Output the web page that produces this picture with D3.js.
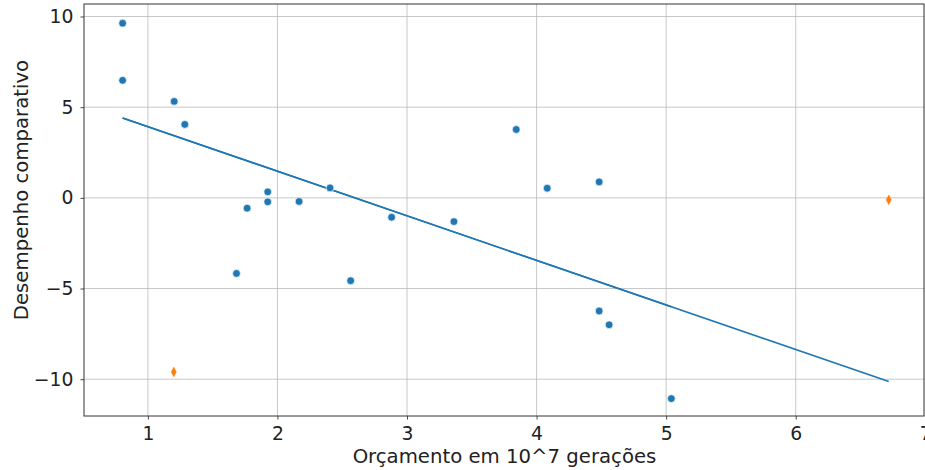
<!DOCTYPE html>
<html>
<head>
<meta charset="utf-8">
<script src="https://cdn.jsdelivr.net/npm/d3@7"></script>
<style>
  html, body { margin: 0; padding: 0; background: #fff; }
  svg { display: block; font-family: "DejaVu Sans", sans-serif; }
</style>
</head>
<body>
<svg id="chart" width="925" height="470"></svg>
<script>
// Budget (10^7 generations) vs. comparative performance
const budgetX = [0.805, 0.805, 1.203, 1.285, 1.684, 1.766, 1.925, 1.925, 2.167, 2.406,
                 2.565, 2.881, 3.362, 3.843, 4.082, 4.483, 4.483, 4.56, 5.04];
const performanceY = [9.63, 6.48, 5.32, 4.05, -4.17, -0.57, 0.33, -0.22, -0.2, 0.55,
                      -4.57, -1.07, -1.31, 3.77, 0.53, 0.88, -6.24, -7.0, -11.07];

// Highlighted runs
const outlierX = [1.2, 6.718];
const outlierY = [-9.6, -0.11];

// Linear fit: y = intercept + slope * x, drawn over two x spans
const fitIntercept = 6.38;
const fitSlope = -2.457;
const fitSpans = [[0.805, 5.04], [0.805, 6.718]];

const xTicks = [1, 2, 3, 4, 5, 6, 7];
const yTicks = [-10, -5, 0, 5, 10];
const xLabel = "Orçamento em 10^7 gerações";
const yLabel = "Desempenho comparativo";

const svg = d3.select("#chart");
const plotL = 84, plotR = 924, plotT = 4, plotB = 416;

const x = d3.scaleLinear().domain([0.507, 6.99]).range([plotL, plotR]);
const y = d3.scaleLinear().domain([-12.03, 10.69]).range([plotB, plotT]);

// grid
const grid = svg.append("g");
grid.selectAll("line.gx").data(xTicks).join("line")
  .attr("x1", d => x(d)).attr("x2", d => x(d))
  .attr("y1", plotT).attr("y2", plotB)
  .attr("stroke", "#b0b0b0").attr("stroke-opacity", 0.7).attr("stroke-width", 1);
grid.selectAll("line.gy").data(yTicks).join("line")
  .attr("x1", plotL).attr("x2", plotR)
  .attr("y1", d => y(d)).attr("y2", d => y(d))
  .attr("stroke", "#b0b0b0").attr("stroke-opacity", 0.7).attr("stroke-width", 1);

// axes
const xAxis = svg.append("g")
  .attr("transform", `translate(0,${plotB})`)
  .call(d3.axisBottom(x).tickValues(xTicks).tickFormat(d3.format("d")).tickSize(3.5).tickPadding(7));
const yAxis = svg.append("g")
  .attr("transform", `translate(${plotL},0)`)
  .call(d3.axisLeft(y).tickValues(yTicks).tickFormat(d => d < 0 ? "\u2212" + Math.abs(d) : d).tickSize(3.5).tickPadding(7));
[xAxis, yAxis].forEach(a => {
  a.select(".domain").remove();
  a.selectAll(".tick line").attr("stroke", "#333").attr("stroke-width", 0.9);
  a.selectAll(".tick text").attr("fill", "#222").style("font-size", "18.8px")
    .style("font-family", "DejaVu Sans, sans-serif");
});

// frame
svg.append("rect")
  .attr("x", plotL).attr("y", plotT)
  .attr("width", plotR - plotL).attr("height", plotB - plotT)
  .attr("fill", "none").attr("stroke", "#333").attr("stroke-width", 1);

// fit lines
const line = d3.line().x(d => x(d)).y(d => y(fitIntercept + fitSlope * d));
svg.append("g").selectAll("path").data(fitSpans).join("path")
  .attr("d", d => line(d))
  .attr("fill", "none").attr("stroke", "#1f77b4").attr("stroke-width", 1.6);

// scatter points
const pts = budgetX.map((v, i) => [v, performanceY[i]]);
svg.append("g").selectAll("circle").data(pts).join("circle")
  .attr("cx", d => x(d[0])).attr("cy", d => y(d[1]))
  .attr("r", 3.9).attr("fill", "#1f77b4")
  .attr("stroke", "#fff").attr("stroke-width", 0.7);

// highlighted runs as thin diamonds
const outs = outlierX.map((v, i) => [v, outlierY[i]]);
svg.append("g").selectAll("path").data(outs).join("path")
  .attr("transform", d => `translate(${x(d[0])},${y(d[1])})`)
  .attr("d", "M0,-4.8L2.6,0L0,4.8L-2.6,0Z")
  .attr("fill", "#ff7f0e").attr("stroke", "#ff7f0e").attr("stroke-width", 0.5);

// axis labels
svg.append("text")
  .attr("x", 504.5).attr("y", 463)
  .attr("text-anchor", "middle").attr("fill", "#222")
  .style("font-size", "19.7px").text(xLabel);
svg.append("text")
  .attr("transform", `translate(28,190) rotate(-90)`)
  .attr("text-anchor", "middle").attr("fill", "#222")
  .style("font-size", "19.7px").text(yLabel);
</script>
</body>
</html>
